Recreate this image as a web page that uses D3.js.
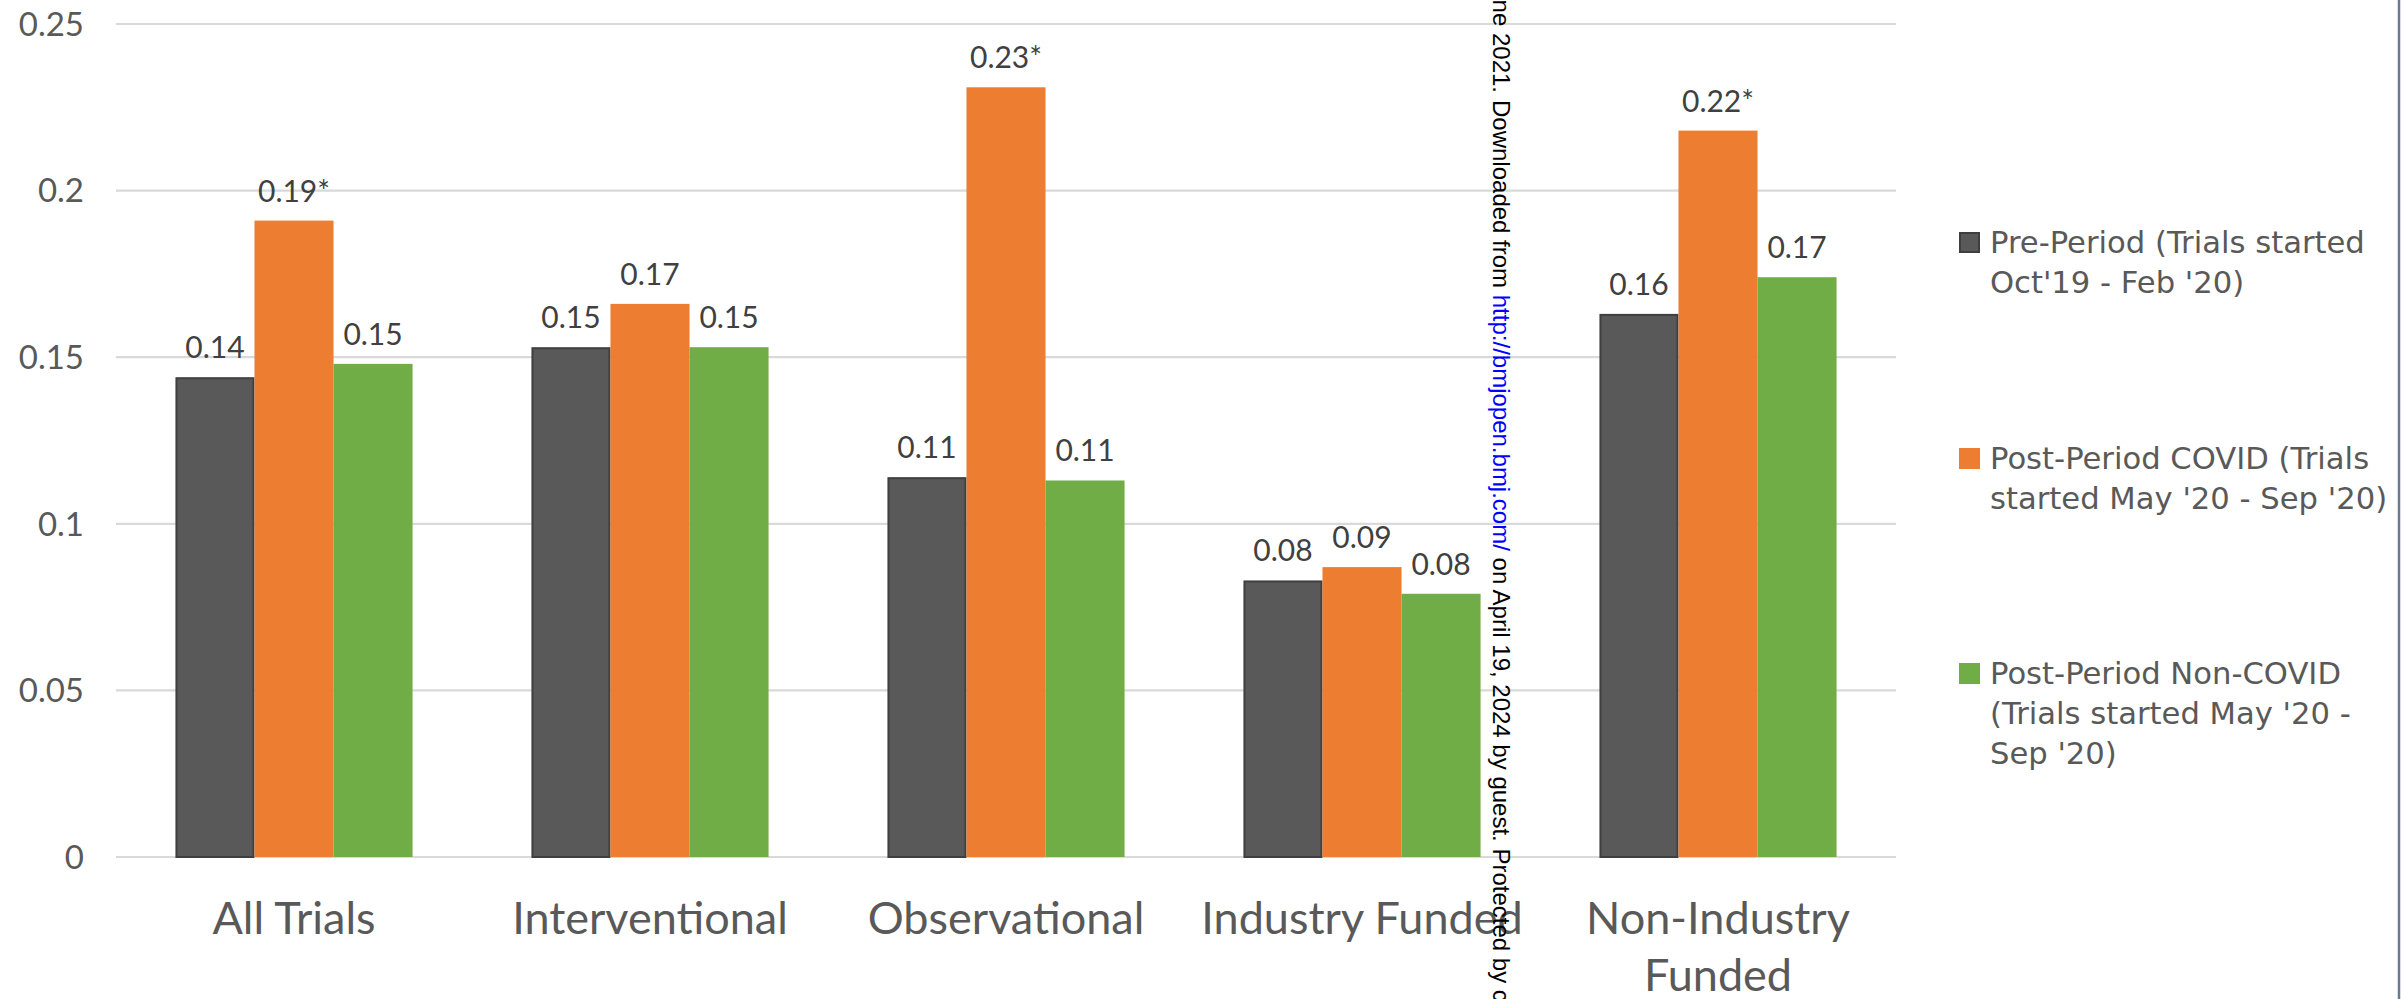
<!DOCTYPE html>
<html>
<head>
<meta charset="utf-8">
<script src="https://cdn.jsdelivr.net/npm/d3@7"></script>
<style>
  html, body { margin: 0; padding: 0; background: #ffffff; }
  svg { display: block; }
</style>
</head>
<body>
<svg id="chart" width="2402" height="999"></svg>
<script>
// ---- data ----
const categories = ["All Trials", "Interventional", "Observational", "Industry Funded", "Non-Industry Funded"];
const categoryLines = [["All Trials"], ["Interventional"], ["Observational"], ["Industry Funded"], ["Non-Industry", "Funded"]];
const seriesNames = ["Pre-Period", "Post-Period COVID", "Post-Period Non-COVID"];
const preValues = [0.144, 0.153, 0.114, 0.083, 0.163];
const covidValues = [0.191, 0.166, 0.231, 0.087, 0.218];
const nonCovidValues = [0.148, 0.153, 0.113, 0.079, 0.174];
const covidStars = [true, false, true, false, true];
const yTicks = [0, 0.05, 0.1, 0.15, 0.2, 0.25];
const yTickLabels = ["0", "0.05", "0.1", "0.15", "0.2", "0.25"];
const legendLines = [
  ["Pre-Period (Trials started", "Oct'19 - Feb '20)"],
  ["Post-Period COVID (Trials", "started May '20 - Sep '20)"],
  ["Post-Period Non-COVID", "(Trials started May '20 -", "Sep '20)"]
];
const colors = ["#595959", "#ED7D31", "#70AD47"];

// ---- layout ----
const svg = d3.select("#chart");
const plotLeft = 116, plotRight = 1896, plotTop = 24, plotBottom = 857;
const textColor = "#595959";

const x = d3.scaleBand().domain(categories).range([plotLeft, plotRight]).paddingInner(0).paddingOuter(0);
const xs = d3.scaleBand().domain(seriesNames).range([0, x.bandwidth()]).paddingInner(0).paddingOuter(0.752);
const y = d3.scaleLinear().domain([0, 0.25]).range([plotBottom, plotTop]);

// gridlines
svg.append("g").selectAll("line").data(yTicks).join("line")
  .attr("x1", plotLeft).attr("x2", plotRight)
  .attr("y1", d => y(d)).attr("y2", d => y(d))
  .attr("stroke", "#d9d9d9").attr("stroke-width", 2.2);

// y tick labels
svg.append("g").selectAll("text").data(yTicks).join("text")
  .attr("x", 84).attr("y", d => y(d))
  .attr("dy", "0.36em")
  .attr("text-anchor", "end")
  .attr("font-family", "Lato, 'Open Sans', sans-serif")
  .attr("font-size", 33)
  .attr("fill", textColor)
  .text((d, i) => yTickLabels[i]);

// bars
const seriesData = [preValues, covidValues, nonCovidValues];
const groups = svg.append("g").selectAll("g").data(categories).join("g")
  .attr("transform", d => `translate(${x(d)},0)`);

groups.selectAll("rect").data((c, ci) => seriesNames.map((s, si) => ({s, si, v: seriesData[si][ci]})))
  .join("rect")
  .attr("x", d => xs(d.s) + (d.si === 0 ? 1 : 0))
  .attr("width", d => xs.bandwidth() - (d.si === 0 ? 2 : 0))
  .attr("y", d => y(d.v) + (d.si === 0 ? 1 : 0))
  .attr("height", d => plotBottom - y(d.v) - (d.si === 0 ? 1 : 0))
  .attr("fill", d => colors[d.si])
  .attr("stroke", d => d.si === 0 ? "#3f3f3f" : "none")
  .attr("stroke-width", 2);

// data labels
groups.selectAll("text").data((c, ci) => seriesNames.map((s, si) => ({s, si, v: seriesData[si][ci], star: si === 1 && covidStars[ci]})))
  .join("text")
  .attr("x", d => xs(d.s) + xs.bandwidth() / 2)
  .attr("y", d => y(d.v) - 19)
  .attr("text-anchor", "middle")
  .attr("font-family", "Lato, 'Open Sans', sans-serif")
  .attr("font-size", 30)
  .attr("fill", "#404040")
  .text(d => d.v.toFixed(2) + (d.star ? "*" : ""));

// category labels
svg.append("g").selectAll("text").data(categories).join("text")
  .attr("x", d => x(d) + x.bandwidth() / 2)
  .attr("y", 934)
  .attr("text-anchor", "middle")
  .attr("font-family", "Lato, 'Open Sans', sans-serif")
  .attr("font-size", 45)
  .attr("fill", textColor)
  .each(function(d, i) {
    const t = d3.select(this);
    categoryLines[i].forEach((line, li) => {
      t.append("tspan").attr("x", x(d) + x.bandwidth() / 2).attr("dy", li === 0 ? 0 : 57).text(line);
    });
  });

// legend: size font so the first line spans ~375px like the reference
const probe = svg.append("text").attr("font-family", "'DejaVu Sans', Verdana, sans-serif")
  .attr("font-size", 30).text(legendLines[0][0]);
const probeW = probe.node().getComputedTextLength();
probe.remove();
const legendFont = Math.min(31, 30 * 375 / probeW);

const legendX = 1959, legendBase = [253, 469, 684];
const lg = svg.append("g").selectAll("g").data(legendLines).join("g");
lg.append("rect")
  .attr("x", (d, i) => legendX + (i === 0 ? 1 : 0))
  .attr("y", (d, i) => legendBase[i] - 21 + (i === 0 ? 1 : 0))
  .attr("width", (d, i) => 21 - (i === 0 ? 2 : 0))
  .attr("height", (d, i) => 21 - (i === 0 ? 2 : 0))
  .attr("fill", (d, i) => colors[i])
  .attr("stroke", (d, i) => i === 0 ? "#3f3f3f" : "none")
  .attr("stroke-width", 2);
lg.append("text")
  .attr("x", 1990)
  .attr("y", (d, i) => legendBase[i])
  .attr("font-family", "'DejaVu Sans', Verdana, sans-serif")
  .attr("font-size", legendFont)
  .attr("fill", textColor)
  .each(function(d) {
    const t = d3.select(this);
    d.forEach((line, li) => {
      t.append("tspan").attr("x", 1990).attr("dy", li === 0 ? 0 : 40).text(line);
    });
  });

// right border
svg.append("line").attr("x1", 2399).attr("x2", 2399).attr("y1", 0).attr("y2", 999)
  .attr("stroke", "#6b7a8f").attr("stroke-width", 2.5);

// watermark (vertical)
const wm = svg.append("text")
  .attr("transform", "translate(1493,100) rotate(90)")
  .attr("font-family", "'Liberation Sans', Arial, sans-serif")
  .attr("font-size", 24)
  .attr("fill", "#000000");
wm.append("tspan").text("Downloaded from ");
wm.append("tspan").attr("fill", "#0000ff").text("http://bmjopen.bmj.com/");
wm.append("tspan").text(" on April 19, 2024 by guest. Protected by copyright.");
svg.append("text")
  .attr("transform", "translate(1493,93) rotate(90)")
  .attr("text-anchor", "end")
  .attr("font-family", "'Liberation Sans', Arial, sans-serif")
  .attr("font-size", 24)
  .attr("fill", "#000000")
  .text("June 2021.");
</script>
</body>
</html>
